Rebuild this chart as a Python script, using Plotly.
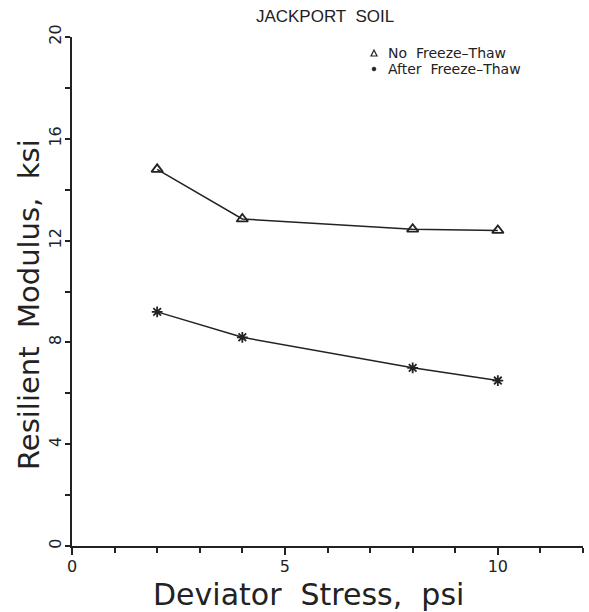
import plotly.graph_objects as go

# Deviator stress (psi) and resilient modulus (ksi)
stress = [2, 4, 8, 10]
no_ft = [14.8, 12.85, 12.45, 12.4]
after_ft = [9.2, 8.2, 7.0, 6.5]

x_ticks = [0, 5, 10]
y_ticks = [0, 4, 8, 12, 16, 20]

legend_labels = ["No  Freeze\u2013Thaw", "After  Freeze\u2013Thaw"]

W, H = 589, 612
L, R, T, B = 72, 6, 37, 66
pw, ph = W - L - R, H - T - B
ink = "#222"


def px_x(px):
    return (px - L) / pw


def px_y(py):
    return (H - B - py) / ph


fig = go.Figure()

fig.add_trace(go.Scatter(
    x=stress, y=no_ft, mode="lines+markers", showlegend=False,
    line=dict(color=ink, width=1.5),
    marker=dict(symbol="triangle-up-open", size=10, color=ink,
                line=dict(width=1.8)),
))
fig.add_trace(go.Scatter(
    x=stress, y=after_ft, mode="lines+markers", showlegend=False,
    line=dict(color=ink, width=1.5),
    marker=dict(symbol="asterisk-open", size=9, color=ink,
                line=dict(width=1.8, color=ink)),
))

# hand-placed key in the upper right
key_font = dict(size=14, color=ink, family="DejaVu Sans, sans-serif")
annotations = []
rows_y = [53, 69]
for label, py in zip(legend_labels, rows_y):
    annotations.append(dict(
        x=px_x(386), y=px_y(py), xref="paper", yref="paper",
        xanchor="left", yanchor="middle", text=label, showarrow=False,
        font=key_font,
    ))

# axis titles
annotations.append(dict(
    x=px_x(308), y=px_y(594), xref="paper", yref="paper",
    xanchor="center", yanchor="middle", text="Deviator  Stress,  psi",
    showarrow=False, font=dict(size=30, color=ink),
))
annotations.append(dict(
    x=px_x(29), y=px_y(305), xref="paper", yref="paper",
    xanchor="center", yanchor="middle", text="Resilient  Modulus,  ksi",
    textangle=-90, showarrow=False, font=dict(size=29, color=ink),
))

shapes = [
    dict(type="path", xref="paper", yref="paper",
         path=(f"M {px_x(371)} {px_y(56)} L {px_x(377)} {px_y(56)} "
               f"L {px_x(374)} {px_y(50)} Z"),
         line=dict(color=ink, width=1.2)),
    dict(type="circle", xref="paper", yref="paper",
         x0=px_x(372), x1=px_x(376), y0=px_y(71), y1=px_y(67),
         fillcolor=ink, line=dict(color=ink, width=0.5)),
]

font_family = "DejaVu Sans, Liberation Sans, sans-serif"

fig.update_layout(
    width=W, height=H,
    margin=dict(l=L, r=R, t=T, b=B),
    paper_bgcolor="white", plot_bgcolor="white",
    font=dict(family=font_family, color=ink),
    showlegend=False,
    title=dict(text="JACKPORT  SOIL", x=325 / W, xanchor="center",
               y=1 - 16 / H, yanchor="middle",
               font=dict(size=17, color=ink,
                         family="Liberation Sans, Arial, sans-serif")),
    annotations=annotations,
    shapes=shapes,
    xaxis=dict(
        range=[0, 12], tickvals=x_ticks, ticktext=[str(v) for v in x_ticks],
        showgrid=False, zeroline=False, showline=True, linecolor=ink,
        linewidth=1.5, ticks="outside", ticklen=7, tickwidth=1.5,
        tickcolor=ink, tickfont=dict(size=16), ticklabelstandoff=-2,
        minor=dict(dtick=1, ticks="outside", ticklen=5, tickwidth=1.5,
                   tickcolor=ink),
    ),
    yaxis=dict(
        range=[0, 20], tickvals=y_ticks, ticktext=[str(v) for v in y_ticks],
        showgrid=False, zeroline=False, showline=True, linecolor=ink,
        linewidth=1.5, ticks="outside", ticklen=5, tickwidth=1.5,
        tickcolor=ink, tickfont=dict(size=16), tickangle=-90,
        ticklabelstandoff=-2,
        minor=dict(dtick=2, ticks="outside", ticklen=5, tickwidth=1.5,
                   tickcolor=ink),
    ),
)

fig.write_html("out.html")
